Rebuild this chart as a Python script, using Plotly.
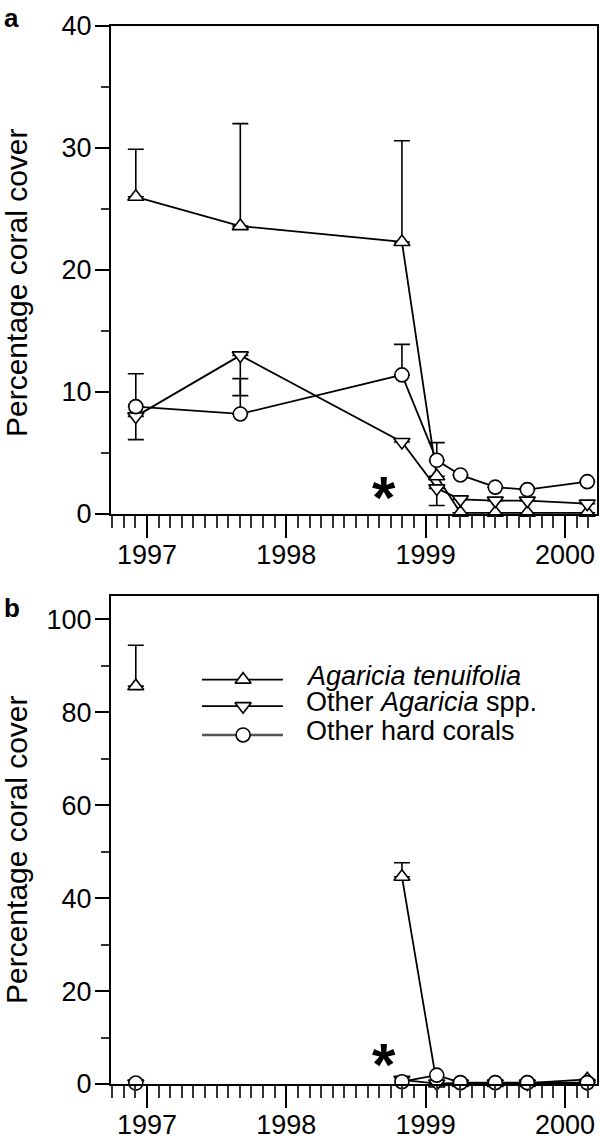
import plotly.graph_objects as go

# ---------------- data ----------------
dates = [1996.92, 1997.67, 1998.83, 1999.08, 1999.25, 1999.50, 1999.73, 2000.16]
year_ticks = [1997, 1998, 1999, 2000]
year_labels = ["1997", "1998", "1999", "2000"]

series_names = ["<i>Agaricia tenuifolia</i>", "Other <i>Agaricia</i> spp.", "Other hard corals"]

# panel a
a_tenuifolia = [26.0, 23.6, 22.3, 3.1, 0.1, 0.1, 0.1, 0.1]
a_tenuifolia_up = [3.9, 8.4, 8.3, 0, 0, 0, 0, 0]
a_other_agaricia = [8.0, 13.0, 5.9, 2.1, 1.2, 1.1, 1.1, 0.85]
a_other_agaricia_dn = [1.9, 3.3, 0, 1.4, 0, 0, 0, 0]
a_hard = [8.8, 8.2, 11.4, 4.4, 3.2, 2.2, 2.0, 2.65]
a_hard_up = [2.7, 2.9, 2.5, 1.45, 0, 0, 0, 0]

# panel b (no survey at the second date)
b_tenuifolia = [85.6, None, 44.6, 0.1, 0.2, 0.2, 0.2, 1.0]
b_tenuifolia_up = [8.8, 0, 3.0, 0, 0, 0, 0, 0]
b_other_agaricia = [0.1, None, 0.9, 0.1, 0.1, 0.1, 0.1, 0.1]
b_hard = [0.2, None, 0.5, 1.9, 0.3, 0.3, 0.3, 0.3]

bleaching_date = 1998.70

# ---------------- styling ----------------
FONT = "Liberation Sans, Arial, Helvetica, sans-serif"
W, H = 600, 1141
LINE_W = 1.8
symbols = ["triangle-up", "triangle-down", "circle"]
sizes = [14, 14, 14]

fig = go.Figure()

def add_series(xa, ya, y, sym, size, up=None, dn=None):
    err = None
    if up is not None or dn is not None:
        n = len(y)
        err = dict(type="data", symmetric=False,
                   array=up if up is not None else [0] * n,
                   arrayminus=dn if dn is not None else [0] * n,
                   color="black", thickness=1.6, width=8)
    fig.add_trace(go.Scatter(
        x=dates, y=y, xaxis=xa, yaxis=ya, mode="lines+markers",
        connectgaps=False, cliponaxis=False, showlegend=False,
        line=dict(color="black", width=LINE_W),
        marker=dict(symbol=sym, size=size, color="white",
                    line=dict(color="black", width=1.6)),
        error_y=err,
    ))

# panel a
add_series("x", "y", a_tenuifolia, symbols[0], sizes[0], up=a_tenuifolia_up)
add_series("x", "y", a_other_agaricia, symbols[1], sizes[1], dn=a_other_agaricia_dn)
add_series("x", "y", a_hard, symbols[2], sizes[2], up=a_hard_up)
# panel b
add_series("x2", "y2", b_tenuifolia, symbols[0], sizes[0], up=b_tenuifolia_up)
add_series("x2", "y2", b_other_agaricia, symbols[1], sizes[1])
add_series("x2", "y2", b_hard, symbols[2], sizes[2])

# ---- manual legend in panel b ----
leg_x0, leg_xm, leg_x1, leg_text_x = 1997.395, 1997.69, 1997.976, 1998.13
leg_rows = [87.0, 81.3, 75.1]
leg_line_colors = ["black", "black", "#555555"]
leg_line_widths = [1.8, 1.8, 2.6]
for i in range(3):
    fig.add_trace(go.Scatter(
        x=[leg_x0, leg_x1], y=[leg_rows[i]] * 2, xaxis="x2", yaxis="y2",
        mode="lines", showlegend=False, hoverinfo="skip",
        line=dict(color=leg_line_colors[i], width=leg_line_widths[i])))
    fig.add_trace(go.Scatter(
        x=[leg_xm], y=[leg_rows[i]], xaxis="x2", yaxis="y2",
        mode="markers", showlegend=False, hoverinfo="skip",
        marker=dict(symbol=symbols[i], size=sizes[i], color="white",
                    line=dict(color="black", width=1.6))))
    fig.add_annotation(x=leg_text_x, y=leg_rows[i] + 0.8, xref="x2", yref="y2",
                       text=series_names[i], showarrow=False,
                       xanchor="left", yanchor="middle",
                       font=dict(family=FONT, size=27, color="black"))

# ---------------- axes ----------------
xr = [1996.742, 2000.23]
xdom = [111 / W, 597 / W]
dom_a = [1 - 514 / H, 1 - 26 / H]
dom_b = [1 - 1084 / H, 1 - 596 / H]

xcommon = dict(range=xr, domain=xdom, showline=True, linecolor="black", linewidth=2,
               mirror=True, showgrid=False, zeroline=False, automargin=False,
               tickmode="array", tickvals=year_ticks, ticktext=year_labels,
               ticks="outside", ticklen=22, tickwidth=2, tickcolor="black",
               ticklabelstandoff=-6,
               tickfont=dict(family=FONT, size=27, color="black"),
               minor=dict(dtick=1 / 12, tick0=1997, ticks="outside", ticklen=12,
                          tickwidth=2, tickcolor="#333333", showgrid=False))
ycommon = dict(showline=True, linecolor="black", linewidth=2, mirror=True,
               showgrid=False, zeroline=False, automargin=False,
               ticks="outside", ticklen=14, tickwidth=2, tickcolor="black",
               ticklabelstandoff=-2,
               tickfont=dict(family=FONT, size=27, color="black"))

fig.update_layout(
    width=W, height=H, margin=dict(l=0, r=0, t=0, b=0, autoexpand=False),
    paper_bgcolor="white", plot_bgcolor="white", showlegend=False,
    xaxis=dict(**xcommon, anchor="y"),
    yaxis=dict(**ycommon, domain=dom_a, range=[0, 40], tick0=0, dtick=10, anchor="x",
               minor=dict(dtick=5, tick0=0, ticks="outside", ticklen=8, tickwidth=2,
                          tickcolor="#333333", showgrid=False)),
    xaxis2=dict(**xcommon, anchor="y2"),
    yaxis2=dict(**ycommon, domain=dom_b, range=[0, 105], tick0=0, dtick=20, anchor="x2",
                minor=dict(dtick=10, tick0=0, ticks="outside", ticklen=8, tickwidth=2,
                           tickcolor="#333333", showgrid=False)),
)

# y titles
for yc in [1 - 283 / H, 1 - 850 / H]:
    fig.add_annotation(x=17 / W, y=yc, xref="paper", yref="paper",
                       text="Percentage coral cover", textangle=-90, showarrow=False,
                       xanchor="center", yanchor="middle",
                       font=dict(family=FONT, size=30, color="black"))

# panel letters
fig.add_annotation(x=2 / W, y=1 - 18 / H, xref="paper", yref="paper", text="<b>a</b>",
                   showarrow=False, xanchor="left", yanchor="middle",
                   font=dict(family=FONT, size=26, color="black"))
fig.add_annotation(x=2 / W, y=1 - 608 / H, xref="paper", yref="paper", text="<b>b</b>",
                   showarrow=False, xanchor="left", yanchor="middle",
                   font=dict(family=FONT, size=26, color="black"))

# bleaching asterisks
fig.add_annotation(x=bleaching_date, y=2.1, xref="x", yref="y", text="<b>*</b>",
                   showarrow=False, xanchor="center", yanchor="middle", yshift=-9,
                   font=dict(family=FONT, size=60, color="black"))
fig.add_annotation(x=bleaching_date, y=6.2, xref="x2", yref="y2", text="<b>*</b>",
                   showarrow=False, xanchor="center", yanchor="middle", yshift=-9,
                   font=dict(family=FONT, size=60, color="black"))

fig.write_html("out.html",
               config={"displayModeBar": False},
               post_script="document.body.style.margin='0px';"
                           "document.body.style.overflow='hidden';")
